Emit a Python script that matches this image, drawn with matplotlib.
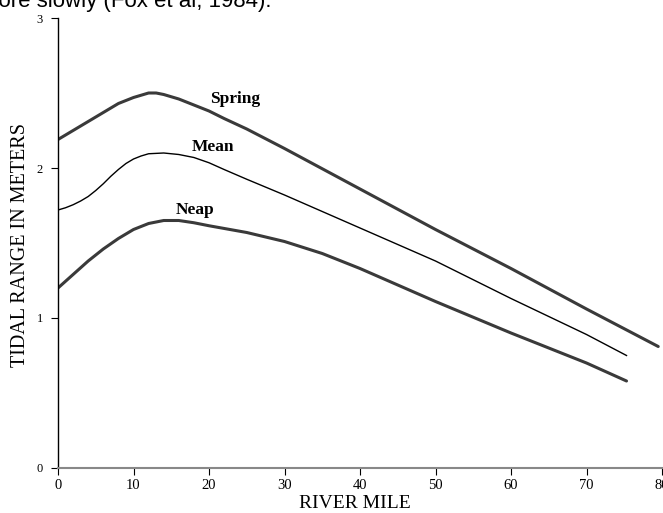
import matplotlib.pyplot as plt

# Datos (milla del rio vs rango de marea en metros)
spring_x = [0, 2, 4, 6, 8, 10, 12, 13, 14, 16, 18, 20, 22, 25, 30, 40, 50, 60, 70, 79.5]
spring_y = [2.19, 2.25, 2.31, 2.37, 2.43, 2.47, 2.50, 2.50, 2.49, 2.46, 2.42, 2.38, 2.33, 2.26, 2.13, 1.86, 1.59, 1.33, 1.06, 0.81]

mean_x = [0, 1, 2, 3, 4, 5, 6, 7, 8, 9, 10, 11, 12, 14, 16, 18, 20, 22, 25, 30, 40, 50, 60, 70, 75.3]
mean_y = [1.72, 1.735, 1.755, 1.78, 1.81, 1.85, 1.895, 1.945, 1.99, 2.03, 2.06, 2.08, 2.095, 2.10, 2.09, 2.07, 2.035, 1.99, 1.925, 1.82, 1.60, 1.38, 1.13, 0.89, 0.75]

neap_x = [0, 2, 4, 6, 8, 10, 12, 14, 16, 18, 20, 25, 30, 35, 40, 45, 50, 60, 70, 75.3]
neap_y = [1.20, 1.29, 1.38, 1.46, 1.53, 1.59, 1.63, 1.65, 1.65, 1.635, 1.615, 1.57, 1.51, 1.43, 1.33, 1.22, 1.11, 0.90, 0.70, 0.58]

xticks = [0, 10, 20, 30, 40, 50, 60, 70, 80]
yticks = [0, 1, 2, 3]

plt.rcParams['font.family'] = 'Liberation Serif'

fig = plt.figure(figsize=(6.63, 5.13), dpi=100)
ax = fig.add_axes([58 / 663, 45 / 513, 604 / 663, 450 / 513])

# Curvas
ax.plot(spring_x, spring_y, color='#3a3a3a', lw=2.2, solid_capstyle='round')
ax.plot(mean_x, mean_y, color='black', lw=1.0)
ax.plot(neap_x, neap_y, color='#3a3a3a', lw=2.2, solid_capstyle='round')

ax.text(23.4, 2.46, 'Spring', fontsize=12.5, fontweight='bold', ha='center', va='center')
ax.text(20.5, 2.14, 'Mean', fontsize=12.5, fontweight='bold', ha='center', va='center')
ax.text(18.1, 1.72, 'Neap', fontsize=12.5, fontweight='bold', ha='center', va='center')

ax.set_xlim(0, 80)
ax.set_ylim(0, 3)
ax.set_xticks(xticks)
ax.set_yticks(yticks)
ax.tick_params(axis='x', labelsize=10.5, length=5, width=0.8, direction='out', pad=3)
ax.tick_params(axis='y', labelsize=9, length=5, width=0.8, direction='out', pad=6)

ax.spines['top'].set_visible(False)
ax.spines['right'].set_visible(False)
ax.spines['left'].set_linewidth(1.0)
ax.spines['bottom'].set_color('#888888')
ax.spines['bottom'].set_linewidth(1.5)

ax.set_xlabel('RIVER MILE', fontsize=14)
ax.xaxis.set_label_coords(0.491, -0.06)
ax.set_ylabel('TIDAL RANGE IN METERS', fontsize=14.5)
ax.yaxis.set_label_coords(-0.047, 0.495)

# Texto del documento cortado arriba
fig.text(271 / 663, 1 - 7 / 513, 'more slowly (Fox et al, 1984).', fontsize=16,
         family='Liberation Sans', ha='right', va='baseline')

plt.savefig('out.png', dpi=100)
